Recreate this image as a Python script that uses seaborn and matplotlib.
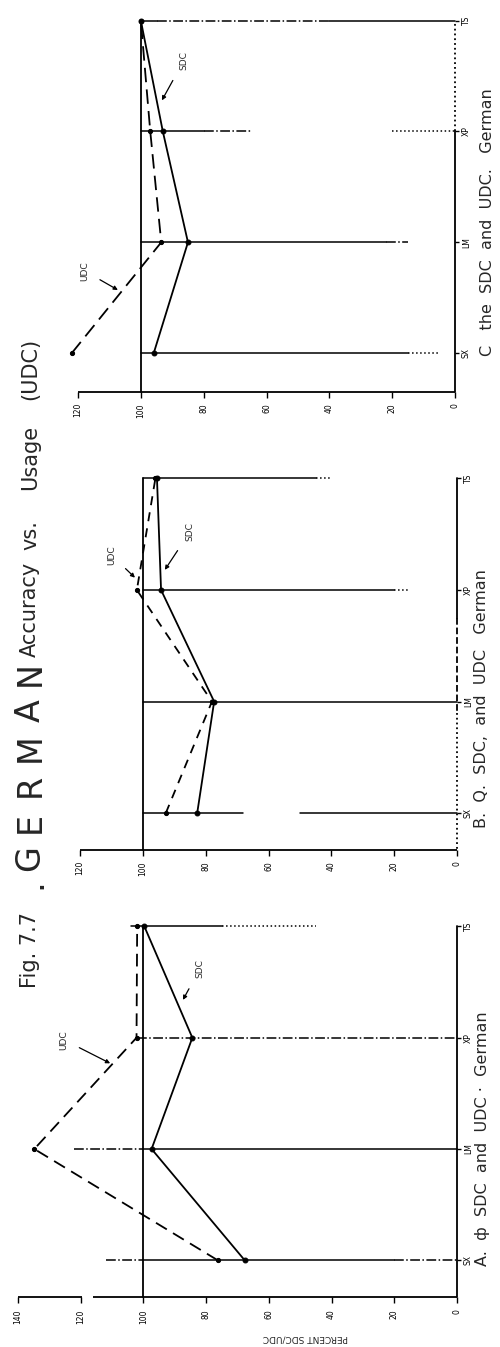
import numpy as np
import pandas as pd
import matplotlib
matplotlib.use("Agg")
import matplotlib.pyplot as plt
import seaborn as sns

# ---------------- data ----------------
categories = ["SX", "LM", "XP", "TS"]
cat_pos = [0, 1, 2, 3]

sdc_a = [67.7, 97.4, 84.4, 99.7]
udc_a = [76.3, 134.8, 102.2, 102.0]

sdc_b = [82.7, 77.3, 94.2, 95.5]
udc_b = [92.7, 78.0, 101.9, 96.0]

sdc_c = [95.9, 85.0, 93.0, 100.0]
udc_c = [122.0, 93.5, 97.0, 100.0]

ticks_a = [0, 20, 40, 60, 80, 100, 120, 140]
ticks_b = [0, 20, 40, 60, 80, 100, 120]
ticks_c = [0, 20, 40, 60, 80, 100, 120]

title_fig = "Fig. 7.7"
title_main = ".GERMAN"
title_sub_words = ["Accuracy", "vs.", "Usage", "(UDC)"]
caption_a = "A.  ф  SDC  and  UDC ·  German"
caption_b = "B.  Q.  SDC,  and  UDC   German"
caption_c = "C   the  SDC  and  UDC.   German"
ylabel_a = "PERCENT SDC/UDC"

# ---------------- figure ----------------
sns.set_theme(style="white")
plt.rcParams["font.family"] = ["DejaVu Sans"]
W, H = 500, 1347
fig = plt.figure(figsize=(W / 100, H / 100), dpi=100)
fig.patch.set_facecolor("white")


def add_axes_px(x0, x1, ytop, ybot):
    return fig.add_axes([x0 / W, 1 - ybot / H, (x1 - x0) / W, (ybot - ytop) / H])


LW = 1.3


def setup(ax, xmax, ticks, ylo, yhi, spine_segments, grid_segments, bottom_segments):
    ax.set_facecolor("white")
    ax.set_xlim(xmax, 0)
    ax.set_ylim(ylo, yhi)
    for s in ax.spines.values():
        s.set_visible(False)
    ax.set_xticks(ticks)
    ax.set_xticklabels([str(t) for t in ticks], rotation=90, fontsize=5.5)
    ax.yaxis.tick_right()
    ax.set_yticks(cat_pos)
    ax.set_yticklabels(categories, rotation=90, fontsize=5.5, va="center")
    ax.tick_params(axis="x", direction="out", length=4, width=1, pad=4, colors="black",
                   bottom=True)
    ax.tick_params(axis="y", direction="out", length=3, width=1, pad=2, colors="black",
                   right=True, left=False)
    ax.grid(False)
    for (a, b) in bottom_segments:
        ax.plot([a, b], [ylo, ylo], color="black", lw=LW, clip_on=False, solid_capstyle="butt")
    for (a, b, ls) in spine_segments:
        ax.plot([0, 0], [a, b], color="black", lw=LW, ls=ls, clip_on=False)
    ax.plot([100, 100], [ylo, 3.0], color="black", lw=LW, clip_on=False)
    for ci, segs in enumerate(grid_segments):
        for (a, b, ls) in segs:
            ax.plot([a, b], [ci, ci], color="black", lw=1.1, ls=ls, clip_on=False)


def draw_series(ax, sdc, udc, udc_dash):
    df_s = pd.DataFrame({"value": sdc, "pos": cat_pos})
    df_u = pd.DataFrame({"value": udc, "pos": cat_pos})
    sns.lineplot(data=df_s, x="value", y="pos", orient="y", sort=False, ax=ax,
                 color="black", lw=LW, marker="o", markersize=3.5, mec="black",
                 estimator=None, clip_on=False)
    sns.lineplot(data=df_u, x="value", y="pos", orient="y", sort=False, ax=ax,
                 color="black", lw=LW, linestyle=udc_dash, marker="o", markersize=3,
                 mec="black", estimator=None, clip_on=False)
    ax.set_xlabel("")
    ax.set_ylabel("")


def label(ax, text, xy_text, xy_head):
    ax.annotate(text, xy=xy_head, xytext=xy_text, rotation=90, fontsize=6.5,
                ha="center", va="center", annotation_clip=False,
                arrowprops=dict(arrowstyle="-|>", color="black", lw=0.9,
                                shrinkA=6, shrinkB=0, mutation_scale=6))


# ---------------- Panel A ----------------
axA = add_axes_px(18, 457, 922, 1297)
setup(axA, 140, ticks_a, -0.33, 3.04,
      spine_segments=[(-0.33, 3.0, "-")],
      grid_segments=[
          [(112, 100, "-."), (100, 20, "-"), (20, 0, "-.")],
          [(122, 100, "-."), (100, 0, "-")],
          [(102, 0, "-.")],
          [(104, 100, "-"), (100, 75, "-"), (75, 45, ":")],
      ],
      bottom_segments=[(140, 119.5), (116, 0)])
draw_series(axA, sdc_a, udc_a, (0, (7, 4)))
label(axA, "UDC", (125.3, 1.98), (110.6, 1.77))
label(axA, "SDC", (82.0, 2.62), (87.4, 2.34))
axA.tick_params(axis="x", pad=5)

# ---------------- Panel B ----------------
axB = add_axes_px(80, 457, 475, 850)
setup(axB, 120, ticks_b, -0.33, 3.03,
      spine_segments=[(3.0, 1.75, "-"), (1.75, 0.9, "--"), (0.9, -0.33, ":")],
      grid_segments=[
          [(100, 68, "-"), (50, 0, "-")],
          [(100, 0, "-")],
          [(100, 20, "-"), (20, 15, ":")],
          [(100, 45, "-"), (45, 40, ":")],
      ],
      bottom_segments=[(120, 0)])
draw_series(axB, sdc_b, udc_b, (0, (5, 4)))
label(axB, "UDC", (109.9, 2.31), (102.5, 2.11))
label(axB, "SDC", (85.0, 2.52), (93.0, 2.18))

# ---------------- Panel C ----------------
axC = add_axes_px(78, 455, 15, 392)
setup(axC, 120, ticks_c, -0.35, 3.05,
      spine_segments=[(-0.35, 2.0, "-"), (2.0, 3.0, ":")],
      grid_segments=[
          [(100, 15, "-"), (15, 5, ":")],
          [(100, 22, "-"), (22, 15, "-.")],
          [(100, 80, "-"), (80, 65, "-."), (20, 0, ":")],
          [(100, 95, "-"), (95, 40, "-."), (40, 0, "-")],
      ],
      bottom_segments=[(120, 0)])
draw_series(axC, sdc_c, udc_c, (0, (8, 4)))
label(axC, "UDC", (117.8, 0.74), (107.3, 0.57))
label(axC, "SDC", (86.3, 2.64), (93.3, 2.28))

# ---------------- texts ----------------
def ftext(xpx, ypx, s, **kw):
    fig.text(xpx / W, 1 - ypx / H, s, **kw)

ftext(30, 988, title_fig, rotation=90, fontsize=15, ha="center", va="bottom")
# ".GERMAN" spread out letter by letter
ftext(32, 884, title_main[0], rotation=90, fontsize=24, ha="center", va="center")
gx = [858, 822, 785, 748, 711, 674]
for ch, yy in zip(title_main[1:], gx):
    ftext(30, yy, ch, rotation=90, fontsize=24, ha="center", va="center")
word_bottoms = [657, 550, 490, 400]
for w, yb in zip(title_sub_words, word_bottoms):
    ftext(30, yb, w, rotation=90, fontsize=15, ha="center", va="bottom")

ftext(483, 1266, caption_a, rotation=90, fontsize=11.5, ha="center", va="bottom")
ftext(482, 828, caption_b, rotation=90, fontsize=11.5, ha="center", va="bottom")
ftext(488, 356, caption_c, rotation=90, fontsize=11.5, ha="center", va="bottom")

ftext(305, 1338, ylabel_a, rotation=180, fontsize=6.5, ha="center", va="center")

fig.savefig("out.png", dpi=100, facecolor="white")
